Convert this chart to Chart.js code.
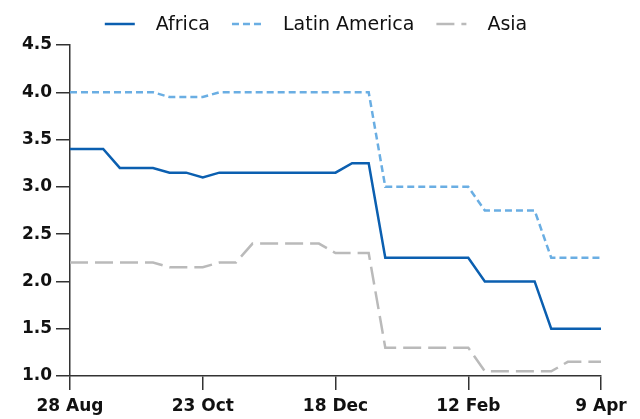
<!DOCTYPE html>
<html>
<head>
<meta charset="utf-8">
<script src="https://cdn.jsdelivr.net/npm/chart.js@4"></script>
<style>
  html, body { margin: 0; padding: 0; background: #fff; }
  #wrap { width: 640px; height: 419px; }
</style>
</head>
<body>
<div id="wrap"><canvas id="chart"></canvas></div>
<script>
// weekly dates
var labels = ['28 Aug','4 Sep','11 Sep','18 Sep','25 Sep','2 Oct','9 Oct','16 Oct','23 Oct','30 Oct',
    '6 Nov','13 Nov','20 Nov','27 Nov','4 Dec','11 Dec','18 Dec','25 Dec','1 Jan','8 Jan',
    '15 Jan','22 Jan','29 Jan','5 Feb','12 Feb','19 Feb','26 Feb','5 Mar','12 Mar','19 Mar',
    '26 Mar','2 Apr','9 Apr'];

var africa = [3.4,3.4,3.4,3.2,3.2,3.2,3.15,3.15,3.1,3.15,
    3.15,3.15,3.15,3.15,3.15,3.15,3.15,3.25,3.25,2.25,
    2.25,2.25,2.25,2.25,2.25,2.0,2.0,2.0,2.0,1.5,
    1.5,1.5,1.5];

var latinAmerica = [4.0,4.0,4.0,4.0,4.0,4.0,3.95,3.95,3.95,4.0,
    4.0,4.0,4.0,4.0,4.0,4.0,4.0,4.0,4.0,3.0,
    3.0,3.0,3.0,3.0,3.0,2.75,2.75,2.75,2.75,2.25,
    2.25,2.25,2.25];

var asia = [2.2,2.2,2.2,2.2,2.2,2.2,2.15,2.15,2.15,2.2,
    2.2,2.4,2.4,2.4,2.4,2.4,2.3,2.3,2.3,1.3,
    1.3,1.3,1.3,1.3,1.3,1.05,1.05,1.05,1.05,1.05,
    1.15,1.15,1.15];

var xTickEvery = 8;
var axisColor = '#333333';
var tickFont = { family: 'DejaVu Sans', size: 17, weight: 'bold' };
var legendFont = '19px "DejaVu Sans"';

// legend drawn by hand so the spacing matches
var topLegend = {
    id: 'topLegend',
    afterDraw(chart){
        var ctx = chart.ctx;
        var items = chart.data.datasets;
        var sample = 30, gapText = 21, gapItem = 22;
        ctx.save();
        ctx.font = legendFont;
        var total = 0;
        items.forEach((d,i)=>{
            total += sample + gapText + ctx.measureText(d.label).width;
            if (i < items.length-1) total += gapItem;
        });
        var x = 316 - total/2;
        var y = 24;
        items.forEach(d=>{
            ctx.beginPath();
            ctx.strokeStyle = d.borderColor;
            ctx.lineWidth = d.borderWidth;
            ctx.setLineDash(d.borderDash || []);
            ctx.moveTo(x, y);
            ctx.lineTo(x + sample, y);
            ctx.stroke();
            ctx.setLineDash([]);
            x += sample + gapText;
            ctx.fillStyle = '#111';
            ctx.textBaseline = 'middle';
            ctx.textAlign = 'left';
            ctx.fillText(d.label, x, y + 1);
            x += ctx.measureText(d.label).width + gapItem;
        });
        ctx.restore();
    }
};

var ctx = document.getElementById('chart').getContext('2d');
var chart = new Chart(ctx, {
    type: 'line',
    data: {
        labels: labels,
        datasets: [
            { label: 'Africa', data: africa, borderColor: '#0b5fb0', borderWidth: 2.5, borderDash: [] },
            { label: 'Latin America', data: latinAmerica, borderColor: '#6aaee3', borderWidth: 2.5, borderDash: [7,4] },
            { label: 'Asia', data: asia, borderColor: '#bababa', borderWidth: 2.5, borderDash: [18,7] }
        ]
    },
    options: {
        responsive: true,
        maintainAspectRatio: false,
        animation: false,
        layout: { padding: { top: 45, right: 39, left: 0, bottom: 0 } },
        elements: {
            point: { radius: 0, hoverRadius: 0 },
            line: { tension: 0, fill: false }
        },
        plugins: {
            legend: { display: false },
            tooltip: { enabled: false }
        },
        scales: {
            x: {
                offset: false,
                afterFit: function(scale){ scale.height = 43; },
                border: { display: true, color: axisColor, width: 1.5 },
                grid: {
                    drawOnChartArea: false,
                    drawTicks: true,
                    tickLength: 14,
                    lineWidth: 1.5,
                    color: function(c){ return c.index % xTickEvery === 0 ? axisColor : 'rgba(0,0,0,0)'; }
                },
                ticks: {
                    autoSkip: false,
                    maxRotation: 0,
                    padding: 6,
                    color: '#111',
                    font: tickFont,
                    callback: function(v, i){ return i % xTickEvery === 0 ? labels[i] : ''; }
                }
            },
            y: {
                min: 1,
                max: 4.5,
                afterFit: function(scale){ scale.width = 70; },
                border: { display: true, color: axisColor, width: 1.5 },
                grid: {
                    drawOnChartArea: false,
                    drawTicks: true,
                    tickLength: 14,
                    lineWidth: 1.5,
                    color: axisColor
                },
                ticks: {
                    stepSize: 0.5,
                    padding: 4,
                    color: '#111',
                    font: tickFont,
                    callback: function(v){ return v.toFixed(1); }
                }
            }
        }
    },
    plugins: [topLegend]
});
</script>
</body>
</html>
